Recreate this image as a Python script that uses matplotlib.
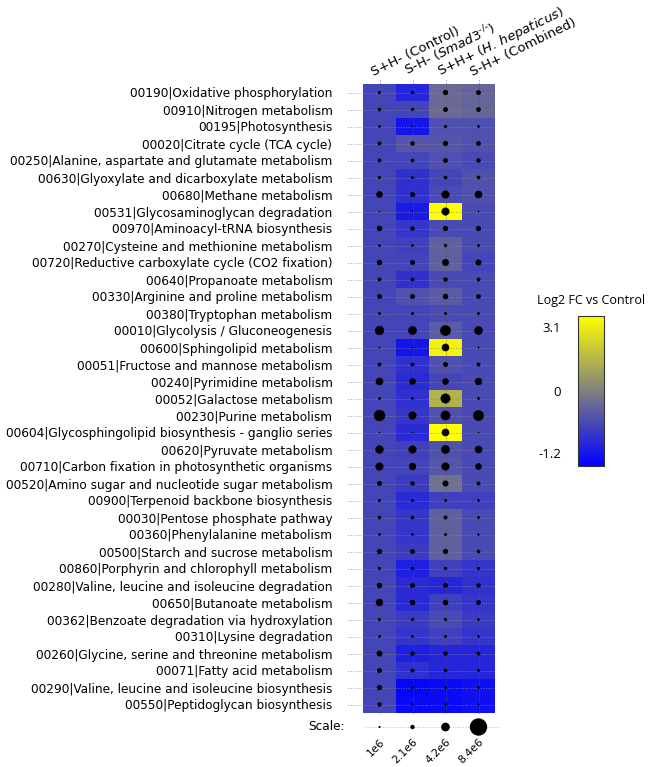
import matplotlib
matplotlib.use("Agg")
import matplotlib.pyplot as plt
import numpy as np
from matplotlib.colors import LinearSegmentedColormap, TwoSlopeNorm
from matplotlib.cm import ScalarMappable
from matplotlib.ticker import FixedLocator, FixedFormatter

pathways = [
    "00190|Oxidative phosphorylation",
    "00910|Nitrogen metabolism",
    "00195|Photosynthesis",
    "00020|Citrate cycle (TCA cycle)",
    "00250|Alanine, aspartate and glutamate metabolism",
    "00630|Glyoxylate and dicarboxylate metabolism",
    "00680|Methane metabolism",
    "00531|Glycosaminoglycan degradation",
    "00970|Aminoacyl-tRNA biosynthesis",
    "00270|Cysteine and methionine metabolism",
    "00720|Reductive carboxylate cycle (CO2 fixation)",
    "00640|Propanoate metabolism",
    "00330|Arginine and proline metabolism",
    "00380|Tryptophan metabolism",
    "00010|Glycolysis / Gluconeogenesis",
    "00600|Sphingolipid metabolism",
    "00051|Fructose and mannose metabolism",
    "00240|Pyrimidine metabolism",
    "00052|Galactose metabolism",
    "00230|Purine metabolism",
    "00604|Glycosphingolipid biosynthesis - ganglio series",
    "00620|Pyruvate metabolism",
    "00710|Carbon fixation in photosynthetic organisms",
    "00520|Amino sugar and nucleotide sugar metabolism",
    "00900|Terpenoid backbone biosynthesis",
    "00030|Pentose phosphate pathway",
    "00360|Phenylalanine metabolism",
    "00500|Starch and sucrose metabolism",
    "00860|Porphyrin and chlorophyll metabolism",
    "00280|Valine, leucine and isoleucine degradation",
    "00650|Butanoate metabolism",
    "00362|Benzoate degradation via hydroxylation",
    "00310|Lysine degradation",
    "00260|Glycine, serine and threonine metabolism",
    "00071|Fatty acid metabolism",
    "00290|Valine, leucine and isoleucine biosynthesis",
    "00550|Peptidoglycan biosynthesis",
]

groups = [
    "S+H- (Control)",
    "S-H- ($\\mathit{Smad3}^{\u2010/\u2010}$)",
    "S+H+ ($\\mathit{H.\\,hepaticus}$)",
    "S-H+ (Combined)",
]

# Log2 fold change (cell colour)
fc_c1 = [-0.55] * 37
fc_c2 = [-0.85, -0.55, -1.0, -0.4, -0.55, -0.75, -0.75, -0.95, -0.7, -0.6,
         -0.55, -0.75, -0.45, -0.55, -0.55, -1.0, -0.75, -0.8, -0.75, -0.7,
         -0.8, -0.6, -0.55, -0.65, -0.8, -0.7, -0.7, -0.65, -0.9, -0.8,
         -0.8, -0.65, -0.7, -0.9, -0.75, -1.15, -1.1]
fc_c3 = [-0.2, -0.2, -0.45, -0.4, -0.45, -0.55, -0.5, 3.1, -0.5, -0.3,
         -0.3, -0.5, -0.35, -0.5, -0.35, 2.8, -0.45, -0.55, 1.2, -0.45,
         3.1, -0.45, -0.4, -0.15, -0.6, -0.3, -0.3, -0.3, -0.6, -0.85,
         -0.6, -0.5, -0.6, -0.85, -0.85, -1.1, -1.1]
fc_c4 = [-0.25, -0.25, -0.45, -0.45, -0.5, -0.45, -0.45, -0.5, -0.5, -0.5,
         -0.55, -0.5, -0.5, -0.5, -0.5, -0.5, -0.5, -0.5, -0.5, -0.5,
         -0.5, -0.5, -0.5, -0.5, -0.6, -0.5, -0.5, -0.5, -0.7, -0.75,
         -0.7, -0.65, -0.7, -0.85, -0.85, -1.05, -1.05]

# Abundance (dot size, millions)
size_c1 = [1.3, 1.5, 1.0, 1.6, 1.6, 1.3, 2.9, 0.5, 2.4, 1.0,
           2.4, 1.6, 2.1, 1.1, 4.2, 0.6, 1.6, 3.4, 1.1, 5.2,
           0.5, 3.7, 3.6, 2.1, 1.3, 1.5, 1.0, 2.3, 1.3, 2.4,
           3.3, 1.3, 1.1, 2.6, 2.1, 2.3, 1.8]
size_c2 = [1.3, 1.3, 0.6, 1.8, 1.5, 1.1, 2.1, 0.5, 1.8, 1.0,
           2.1, 1.5, 2.1, 1.1, 3.9, 0.6, 1.5, 2.8, 1.0, 3.6,
           0.5, 3.6, 3.3, 1.8, 1.1, 1.5, 1.0, 2.0, 1.3, 2.1,
           2.4, 1.3, 1.1, 1.8, 1.6, 1.1, 1.0]
size_c3 = [2.3, 2.1, 1.3, 2.3, 2.0, 1.5, 3.6, 3.6, 2.3, 1.3,
           3.1, 1.8, 2.4, 1.1, 4.9, 3.4, 2.1, 2.9, 4.5, 4.4,
           3.4, 3.9, 3.6, 2.6, 1.0, 1.6, 1.1, 2.3, 1.3, 2.0,
           2.4, 1.3, 1.1, 1.8, 1.5, 1.1, 1.0]
size_c4 = [2.1, 2.0, 1.1, 2.0, 1.8, 1.5, 3.4, 0.5, 2.3, 1.1,
           2.6, 1.6, 2.0, 1.1, 3.9, 0.6, 1.6, 3.3, 1.1, 4.9,
           0.5, 3.4, 2.9, 1.6, 1.0, 1.1, 0.8, 1.5, 1.3, 1.8,
           2.0, 1.0, 1.0, 1.6, 1.3, 1.0, 0.8]

scale_values = [1.0, 2.1, 4.2, 8.4]
scale_labels = ["1e6", "2.1e6", "4.2e6", "8.4e6"]

cbar_min, cbar_mid, cbar_max = -1.2, 0.0, 3.1

W, H = 650, 767
DPI = 100
fig = plt.figure(figsize=(W / DPI, H / DPI), dpi=DPI)


def px_axes(x0, y0, x1, y1):
    return fig.add_axes([x0 / W, 1 - y1 / H, (x1 - x0) / W, (y1 - y0) / H])


cmap = LinearSegmentedColormap.from_list("byg", ["#0000ff", "#808080", "#ffff00"])
norm = TwoSlopeNorm(vmin=cbar_min, vcenter=cbar_mid, vmax=cbar_max)

fc = np.array([fc_c1, fc_c2, fc_c3, fc_c4]).T
sz = np.array([size_c1, size_c2, size_c3, size_c4]).T
n = len(pathways)

ax = px_axes(363, 84, 495, 713)
ax.imshow(fc, cmap=cmap, norm=norm, aspect="auto", interpolation="nearest",
          extent=(-0.5, 3.5, n - 0.5, -0.5))
ax.set_xlim(-0.5, 3.5)
ax.set_ylim(n - 0.5, -0.5)

# dotted guide lines
for i in range(n):
    ax.plot([-0.95, 3.5], [i, i], ls=(0, (1, 2)), lw=0.6, color="#8a8a8a",
            clip_on=False, zorder=1)
for j in range(4):
    ax.plot([j, j], [-0.75, n - 0.5], ls=(0, (1, 2)), lw=0.6, color="#555566",
            clip_on=False, zorder=1)

px_per_m = 2.07
xs, ys, ss = [], [], []
for i in range(n):
    for j in range(4):
        xs.append(j)
        ys.append(i)
        ss.append((px_per_m * sz[i, j] * 72 / DPI) ** 2)
ax.scatter(xs, ys, s=ss, c="black", edgecolors="black", linewidths=0.4,
           zorder=3)

ax.set_yticks(range(n))
ax.set_yticklabels(pathways, fontsize=8.75, family="DejaVu Sans")
ax.tick_params(axis="y", length=0, pad=22)
ax.set_xticks([])
for s in ax.spines.values():
    s.set_visible(False)

for j, g in enumerate(groups):
    ax.annotate(g, xy=(j, -0.5), xytext=(-4, 6), textcoords="offset points",
                rotation=26, ha="left", va="baseline", rotation_mode="anchor",
                fontsize=9.5, family="DejaVu Sans", annotation_clip=False)

# scale row
sax = px_axes(363, 717, 495, 737)
sax.set_xlim(-0.5, 3.5)
sax.set_ylim(-1, 1)
sax.plot([-0.45, 3.65], [0, 0], ls=(0, (1, 2)), lw=0.6, color="#aaaaaa",
         clip_on=False)
sax.scatter(range(4), [0] * 4,
            s=[(px_per_m * v * 72 / DPI) ** 2 for v in scale_values],
            c="black", linewidths=0, zorder=3, clip_on=False)
sax.set_xticks(range(4))
sax.set_xticklabels(scale_labels, rotation=45, ha="right", va="top",
                    rotation_mode="anchor", fontsize=7.8, family="DejaVu Sans")
sax.tick_params(axis="x", length=0, pad=0)
sax.set_yticks([])
for s in sax.spines.values():
    s.set_visible(False)
sax.text(-1.05, 0, "Scale:", ha="right", va="center", fontsize=8.75,
         family="DejaVu Sans")

# colorbar
cax = px_axes(578, 316, 604, 466)
sm = ScalarMappable(norm=norm, cmap=cmap)
cb = fig.colorbar(sm, cax=cax)
cb.outline.set_linewidth(0.8)
cb.outline.set_edgecolor("#333333")
cb.ax.yaxis.set_ticks_position("left")
cb.ax.yaxis.set_major_locator(FixedLocator([-1.0, 0.0, 2.65]))
cb.ax.yaxis.set_major_formatter(FixedFormatter(["-1.2", "0", "3.1"]))
cb.ax.yaxis.set_minor_locator(FixedLocator([]))
cb.ax.tick_params(axis="y", length=0, pad=12, labelsize=9.5)
for lab in cb.ax.get_yticklabels():
    lab.set_family("Open Sans")
cax.text(0.5, 1.06, "Log2 FC vs Control", transform=cax.transAxes,
         ha="center", va="bottom", fontsize=9, family="Open Sans")

fig.savefig("out.png", dpi=DPI)
